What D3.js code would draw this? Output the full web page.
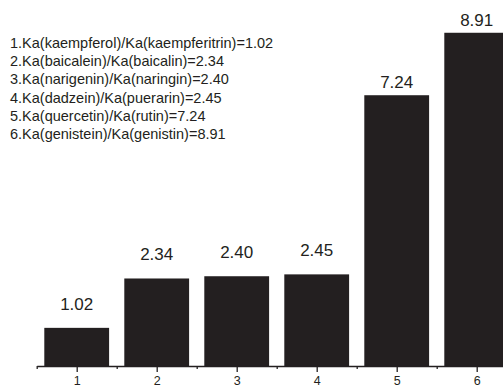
<!DOCTYPE html>
<html lang="en">
	<head>
		<meta charset="utf-8">
		<title>Ka ratio bars</title>
		<script src="https://d3js.org/d3.v7.min.js" charset="utf-8"></script>
		<style type="text/css">
		body { margin: 0; background: #fff; }
		svg text { font-family: "Liberation Sans", Arial, Helvetica, sans-serif; fill: #231f20; }
		.legend { font-size: 14.5px; }
		.val { font-size: 17px; }
		.tick text { font-size: 12.5px; }
		</style>
	</head>
	<body>
		<div id="chart"></div>
		<script>
			var width = 503;
			var height = 389;

			// data
			var groups = [1, 2, 3, 4, 5, 6];
			var ratios = [1.02, 2.34, 2.40, 2.45, 7.24, 8.91];
			var valueLabels = ["1.02", "2.34", "2.40", "2.45", "7.24", "8.91"];
			var legendLines = [
				"1.Ka(kaempferol)/Ka(kaempferitrin)=1.02",
				"2.Ka(baicalein)/Ka(baicalin)=2.34",
				"3.Ka(narigenin)/Ka(naringin)=2.40",
				"4.Ka(dadzein)/Ka(puerarin)=2.45",
				"5.Ka(quercetin)/Ka(rutin)=7.24",
				"6.Ka(genistein)/Ka(genistin)=8.91"
			];
			var minorTicks = [0.5, 1.5, 2.5, 3.5, 4.5, 5.5, 6.5];

			var svg = d3.select("#chart")
				.append("svg")
				.attr("width", width)
				.attr("height", height);

			var x = d3.scaleLinear()
				.domain([0.5, 6.5])
				.range([36.7, 516.7]);

			var y = d3.scaleLinear()
				.domain([0, 9])
				.range([366, 29.4]);

			var barW = 0.81;

			// bars
			svg.selectAll("rect.bar")
				.data(groups)
				.enter().append("rect")
				.attr("class", "bar")
				.attr("x", function(d) { return x(d - barW / 2); })
				.attr("width", function(d) { return x(d + barW / 2) - x(d - barW / 2); })
				.attr("y", function(d, i) { return y(ratios[i]); })
				.attr("height", function(d, i) { return y(0) - y(ratios[i]); })
				.attr("fill", "#231f20");

			// value labels above bars
			svg.selectAll("text.val")
				.data(groups)
				.enter().append("text")
				.attr("class", "val")
				.attr("x", function(d) { return x(d); })
				.attr("y", function(d, i) { return y(ratios[i]) - (ratios[i] > 5 ? 7 : 18); })
				.attr("text-anchor", "middle")
				.text(function(d, i) { return valueLabels[i]; });

			// axis, major + minor ticks
			var gx = svg.append("g")
				.attr("transform", "translate(0," + y(0) + ")");

			gx.call(d3.axisBottom(x)
				.tickValues(groups)
				.tickFormat(d3.format("d"))
				.tickSize(6)
				.tickSizeOuter(0)
				.tickPadding(4));

			gx.selectAll("path, line").attr("stroke", "#231f20").attr("stroke-width", 1.3);

			svg.append("g")
				.attr("transform", "translate(0," + y(0) + ")")
				.call(d3.axisBottom(x)
					.tickValues(minorTicks)
					.tickFormat("")
					.tickSize(3)
					.tickSizeOuter(0))
				.call(function(g) { g.select(".domain").remove(); })
				.selectAll("line").attr("stroke", "#231f20").attr("stroke-width", 1.3);

			// legend text block
			svg.append("g")
				.attr("class", "legend")
				.selectAll("text")
				.data(legendLines)
				.enter().append("text")
				.attr("x", 10)
				.attr("y", function(d, i) { return 48 + i * 18.2; })
				.text(function(d) { return d; });
		</script>
	</body>
</html>
